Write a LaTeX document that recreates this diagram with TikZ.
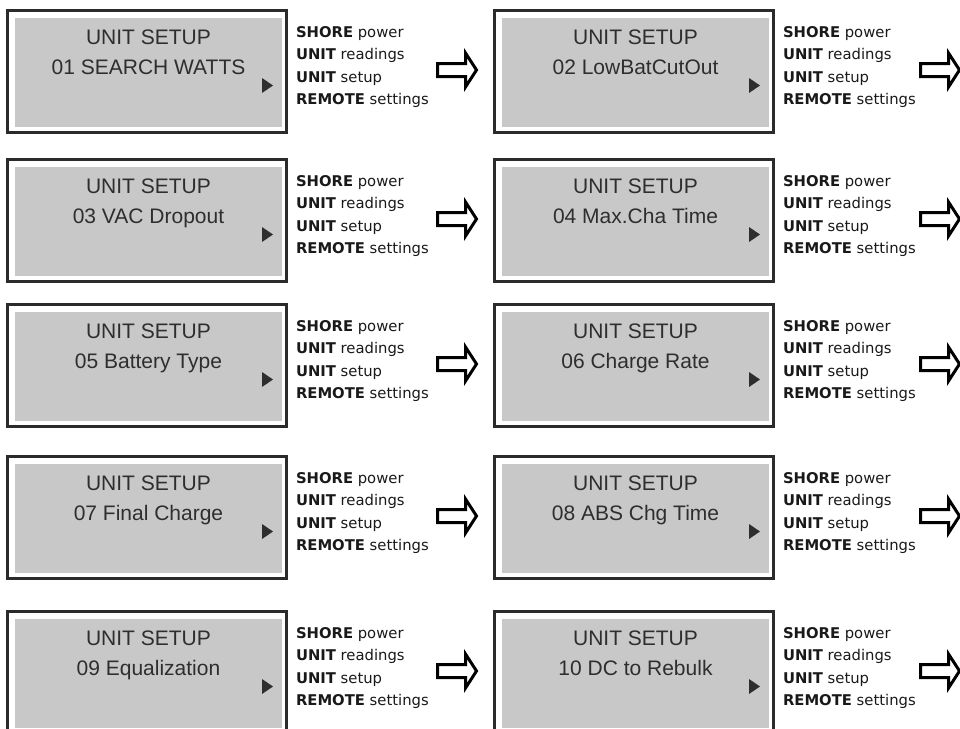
\documentclass[tikz,border=0pt]{standalone}
\usepackage{fontspec}
\setmainfont{Liberation Sans}
\newfontfamily\menufont{DejaVu Sans}

\definecolor{screengray}{RGB}{200,200,200}
\definecolor{framegray}{RGB}{43,43,43}
\definecolor{inkgray}{RGB}{46,46,46}

\newcommand{\menulist}{\textbf{SHORE} power\\\textbf{UNIT} readings\\\textbf{UNIT} setup\\\textbf{REMOTE} settings}

\begin{document}
\begin{tikzpicture}[
					x = 1pt, y = -1pt,
					every node/.style = {
						inner sep = 0pt,
						outer sep = 0pt,
					},
					lcdframe/.style = {
						shape = rectangle,
						draw = framegray,
						line width = 3pt,
						fill = white,
						minimum width = 279pt,
						minimum height = 122pt,
					},
					lcdscreen/.style = {
						shape = rectangle,
						fill = screengray,
						minimum width = 267pt,
						minimum height = 109pt,
					},
					lcdtext/.style = {
						anchor = base,
						align = center,
						text = inkgray,
						font = \fontsize{21}{30}\selectfont,
					},
					lcdkey/.style = {
						fill = inkgray,
					},
					menutext/.style = {
						anchor = base west,
						align = left,
						text = black!90,
						font = \menufont\fontsize{14.8}{22.5}\selectfont,
					},
					nextarrow/.style = {
						draw = black,
						line width = 3pt,
						fill = white,
						line join = miter,
					},
			]
				\useasboundingbox (0, 0) rectangle (960, 728);
				\clip (0, 0) rectangle (960, 728);

				\draw (147, 71.5) node (f1) [lcdframe] {};
				\draw (148.5, 72.5) node (s1) [lcdscreen] {};
				\draw (148.5, 74.5) node (t1) [lcdtext] {UNIT SETUP\\01 SEARCH WATTS};
				\fill [lcdkey] (262, 78) -- (262, 93) -- (273, 85.5) -- cycle;
				\draw (296, 104.5) node (m1) [menutext] {\menulist};
				\draw [nextarrow] (437.5, 63.5) -- ++(28, 0) -- ++(0, -10.5) -- ++(11, 17) -- ++(-11, 17) -- ++(0, -10.5) -- ++(-28, 0) -- cycle;

				\draw (634, 71.5) node (f2) [lcdframe] {};
				\draw (635.5, 72.5) node (s2) [lcdscreen] {};
				\draw (635.5, 74.5) node (t2) [lcdtext] {UNIT SETUP\\02 LowBatCutOut};
				\fill [lcdkey] (749, 78) -- (749, 93) -- (760, 85.5) -- cycle;
				\draw (783, 104.5) node (m2) [menutext] {\menulist};
				\draw [nextarrow] (920.5, 63.5) -- ++(28, 0) -- ++(0, -10.5) -- ++(11, 17) -- ++(-11, 17) -- ++(0, -10.5) -- ++(-28, 0) -- cycle;

				\draw (147, 220.5) node (f3) [lcdframe] {};
				\draw (148.5, 221.5) node (s3) [lcdscreen] {};
				\draw (148.5, 223.5) node (t3) [lcdtext] {UNIT SETUP\\03 VAC Dropout};
				\fill [lcdkey] (262, 227) -- (262, 242) -- (273, 234.5) -- cycle;
				\draw (296, 253.5) node (m3) [menutext] {\menulist};
				\draw [nextarrow] (437.5, 212.5) -- ++(28, 0) -- ++(0, -10.5) -- ++(11, 17) -- ++(-11, 17) -- ++(0, -10.5) -- ++(-28, 0) -- cycle;

				\draw (634, 220.5) node (f4) [lcdframe] {};
				\draw (635.5, 221.5) node (s4) [lcdscreen] {};
				\draw (635.5, 223.5) node (t4) [lcdtext] {UNIT SETUP\\04 Max.Cha Time};
				\fill [lcdkey] (749, 227) -- (749, 242) -- (760, 234.5) -- cycle;
				\draw (783, 253.5) node (m4) [menutext] {\menulist};
				\draw [nextarrow] (920.5, 212.5) -- ++(28, 0) -- ++(0, -10.5) -- ++(11, 17) -- ++(-11, 17) -- ++(0, -10.5) -- ++(-28, 0) -- cycle;

				\draw (147, 365.5) node (f5) [lcdframe] {};
				\draw (148.5, 366.5) node (s5) [lcdscreen] {};
				\draw (148.5, 368.5) node (t5) [lcdtext] {UNIT SETUP\\05 Battery Type};
				\fill [lcdkey] (262, 372) -- (262, 387) -- (273, 379.5) -- cycle;
				\draw (296, 398.5) node (m5) [menutext] {\menulist};
				\draw [nextarrow] (437.5, 357.5) -- ++(28, 0) -- ++(0, -10.5) -- ++(11, 17) -- ++(-11, 17) -- ++(0, -10.5) -- ++(-28, 0) -- cycle;

				\draw (634, 365.5) node (f6) [lcdframe] {};
				\draw (635.5, 366.5) node (s6) [lcdscreen] {};
				\draw (635.5, 368.5) node (t6) [lcdtext] {UNIT SETUP\\06 Charge Rate};
				\fill [lcdkey] (749, 372) -- (749, 387) -- (760, 379.5) -- cycle;
				\draw (783, 398.5) node (m6) [menutext] {\menulist};
				\draw [nextarrow] (920.5, 357.5) -- ++(28, 0) -- ++(0, -10.5) -- ++(11, 17) -- ++(-11, 17) -- ++(0, -10.5) -- ++(-28, 0) -- cycle;

				\draw (147, 517.5) node (f7) [lcdframe] {};
				\draw (148.5, 518.5) node (s7) [lcdscreen] {};
				\draw (148.5, 520.5) node (t7) [lcdtext] {UNIT SETUP\\07 Final Charge};
				\fill [lcdkey] (262, 524) -- (262, 539) -- (273, 531.5) -- cycle;
				\draw (296, 550.5) node (m7) [menutext] {\menulist};
				\draw [nextarrow] (437.5, 509.5) -- ++(28, 0) -- ++(0, -10.5) -- ++(11, 17) -- ++(-11, 17) -- ++(0, -10.5) -- ++(-28, 0) -- cycle;

				\draw (634, 517.5) node (f8) [lcdframe] {};
				\draw (635.5, 518.5) node (s8) [lcdscreen] {};
				\draw (635.5, 520.5) node (t8) [lcdtext] {UNIT SETUP\\08 ABS Chg Time};
				\fill [lcdkey] (749, 524) -- (749, 539) -- (760, 531.5) -- cycle;
				\draw (783, 550.5) node (m8) [menutext] {\menulist};
				\draw [nextarrow] (920.5, 509.5) -- ++(28, 0) -- ++(0, -10.5) -- ++(11, 17) -- ++(-11, 17) -- ++(0, -10.5) -- ++(-28, 0) -- cycle;

				\draw (147, 672.5) node (f9) [lcdframe] {};
				\draw (148.5, 673.5) node (s9) [lcdscreen] {};
				\draw (148.5, 675.5) node (t9) [lcdtext] {UNIT SETUP\\09 Equalization};
				\fill [lcdkey] (262, 679) -- (262, 694) -- (273, 686.5) -- cycle;
				\draw (296, 705.5) node (m9) [menutext] {\menulist};
				\draw [nextarrow] (437.5, 664.5) -- ++(28, 0) -- ++(0, -10.5) -- ++(11, 17) -- ++(-11, 17) -- ++(0, -10.5) -- ++(-28, 0) -- cycle;

				\draw (634, 672.5) node (f10) [lcdframe] {};
				\draw (635.5, 673.5) node (s10) [lcdscreen] {};
				\draw (635.5, 675.5) node (t10) [lcdtext] {UNIT SETUP\\10 DC to Rebulk};
				\fill [lcdkey] (749, 679) -- (749, 694) -- (760, 686.5) -- cycle;
				\draw (783, 705.5) node (m10) [menutext] {\menulist};
				\draw [nextarrow] (920.5, 664.5) -- ++(28, 0) -- ++(0, -10.5) -- ++(11, 17) -- ++(-11, 17) -- ++(0, -10.5) -- ++(-28, 0) -- cycle;
			\end{tikzpicture}
\end{document}
